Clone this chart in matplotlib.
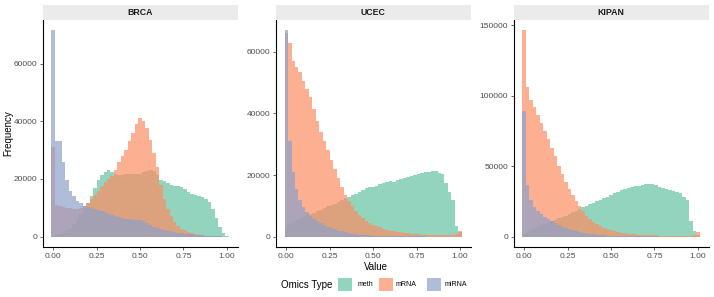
import numpy as np
import matplotlib.pyplot as plt
from matplotlib.patches import Rectangle

plt.rcParams['font.family'] = ['Liberation Sans', 'DejaVu Sans']

# --------------------------------------------------
# Histogram counts (thousands), bins of width 0.02 centred on 0.00 ... 1.00
# --------------------------------------------------
bin_centers = np.round(np.linspace(0, 1, 51), 2)
bin_width = 0.02

cancers = ['BRCA', 'UCEC', 'KIPAN']
omics = ['meth', 'mRNA', 'miRNA']

brca_meth = [0.3, 0.5, 0.8, 1.2, 2.0, 3.0, 4.5, 6.0, 8.0, 10.0,
             11.5, 14.0, 17.0, 19.5, 21.5, 22.5, 23.0, 22.3, 21.8, 21.5,
             21.5, 21.7, 21.8, 21.8, 21.6, 21.8, 22.3, 22.8, 23.2, 22.8,
             21.5, 19.8, 19.2, 18.6, 18.0, 17.6, 17.5, 17.2, 16.5, 15.5,
             14.8, 14.3, 14.0, 13.8, 13.0, 12.0, 9.5, 6.5, 3.5, 1.2,
             0.3]
brca_mrna = [31.0, 11.0, 10.5, 10.3, 10.0, 9.8, 9.6, 9.5, 9.8, 10.5,
             11.5, 13.0, 14.5, 16.0, 17.5, 19.0, 20.0, 21.0, 23.0, 26.0,
             28.0, 30.0, 33.0, 36.0, 39.0, 41.0, 40.0, 37.5, 33.5, 29.0,
             24.0, 18.0, 13.0, 9.5, 7.0, 5.0, 3.8, 2.8, 2.2, 1.6,
             1.2, 0.9, 0.7, 0.5, 0.4, 0.3, 0.2, 0.15, 0.1, 0.05,
             0.02]
brca_mirna = [71.5, 33.0, 33.0, 26.0, 19.5, 16.0, 14.0, 12.5, 11.5, 10.8,
              10.3, 10.0, 9.6, 9.2, 8.8, 8.4, 8.0, 7.6, 7.2, 6.8,
              6.5, 6.2, 6.0, 5.9, 5.9, 5.8, 5.3, 4.6, 3.9, 3.3,
              2.9, 2.6, 2.3, 2.0, 1.8, 1.6, 1.4, 1.2, 1.0, 0.9,
              0.8, 0.7, 0.6, 0.5, 0.4, 0.3, 0.2, 0.15, 0.1, 0.05,
              0.02]

ucec_meth = [3.0, 4.0, 4.8, 5.5, 6.0, 6.5, 7.0, 7.4, 7.8, 8.3,
             8.8, 9.3, 9.8, 10.2, 10.6, 11.2, 11.8, 12.5, 13.0, 13.5,
             14.0, 14.6, 15.2, 15.7, 16.0, 16.2, 16.5, 17.0, 17.4, 17.8,
             18.2, 17.8, 18.4, 18.8, 19.2, 19.5, 19.8, 20.1, 20.4, 20.7,
             20.9, 21.0, 21.3, 21.2, 20.8, 20.4, 17.5, 14.5, 12.0, 3.5,
             1.5]
ucec_mrna = [66.0, 63.0, 57.0, 55.0, 53.5, 50.5, 48.0, 45.5, 41.5, 37.5,
             34.0, 31.0, 28.0, 25.0, 22.0, 19.0, 16.0, 13.5, 11.5, 9.8,
             8.3, 7.0, 6.0, 5.2, 4.5, 3.9, 3.4, 3.0, 2.6, 2.3,
             2.0, 1.8, 1.6, 1.4, 1.2, 1.1, 1.0, 0.9, 0.8, 0.7,
             0.65, 0.6, 0.55, 0.5, 0.5, 0.5, 0.5, 0.5, 0.6, 0.8,
             2.0]
ucec_mirna = [67.0, 31.0, 21.0, 15.5, 12.0, 9.5, 8.0, 6.8, 5.8, 5.0,
              4.3, 3.7, 3.2, 2.8, 2.4, 2.0, 1.7, 1.4, 1.2, 1.0,
              0.8, 0.7, 0.6, 0.5, 0.4, 0.35, 0.3, 0.27, 0.24, 0.21,
              0.19, 0.17, 0.15, 0.13, 0.12, 0.11, 0.1, 0.09, 0.08, 0.07,
              0.06, 0.05, 0.05, 0.04, 0.04, 0.03, 0.03, 0.03, 0.02, 0.02,
              0.02]

kipan_meth = [2.0, 3.5, 4.5, 5.5, 7.0, 8.0, 9.0, 10.0, 11.0, 12.0,
              13.0, 14.0, 15.0, 16.0, 17.3, 18.5, 19.7, 21.0, 22.0, 23.0,
              24.0, 25.0, 26.0, 27.2, 28.4, 29.5, 30.7, 31.8, 32.8, 33.7,
              34.6, 35.2, 35.8, 36.3, 36.8, 37.2, 37.4, 37.2, 36.6, 35.6,
              34.6, 33.8, 33.2, 32.6, 32.0, 31.0, 28.5, 26.0, 11.0, 4.0,
              1.0]
kipan_mrna = [146.5, 106.5, 97.0, 92.0, 86.5, 81.0, 75.0, 69.0, 63.0, 57.0,
              50.5, 44.5, 39.0, 34.0, 29.5, 25.5, 21.5, 18.0, 15.0, 12.5,
              10.5, 8.8, 7.4, 6.2, 5.2, 4.4, 3.8, 3.3, 2.9, 2.5,
              2.2, 1.9, 1.7, 1.5, 1.3, 1.2, 1.1, 1.0, 0.9, 0.8,
              0.75, 0.7, 0.65, 0.6, 0.6, 0.6, 0.6, 0.6, 0.7, 1.0,
              3.0]
kipan_mirna = [89.0, 37.0, 26.0, 21.0, 18.0, 16.0, 14.0, 12.3, 10.8, 9.5,
               8.3, 7.2, 6.2, 5.3, 4.5, 3.8, 3.2, 2.7, 2.3, 1.9,
               1.6, 1.3, 1.1, 0.9, 0.8, 0.7, 0.6, 0.5, 0.45, 0.4,
               0.35, 0.3, 0.27, 0.24, 0.21, 0.19, 0.17, 0.15, 0.13, 0.12,
               0.1, 0.09, 0.08, 0.07, 0.06, 0.05, 0.05, 0.04, 0.04, 0.03,
               0.03]

counts = {
    'BRCA': [brca_meth, brca_mrna, brca_mirna],
    'UCEC': [ucec_meth, ucec_mrna, ucec_mirna],
    'KIPAN': [kipan_meth, kipan_mrna, kipan_mirna],
}
yticks = {
    'BRCA': [0, 20000, 40000, 60000],
    'UCEC': [0, 20000, 40000, 60000],
    'KIPAN': [0, 50000, 100000, 150000],
}
xticks = [0.0, 0.25, 0.5, 0.75, 1.0]
xtick_labels = ['0.00', '0.25', '0.50', '0.75', '1.00']

colors = ['#66C2A5', '#FC8D62', '#8DA0CB']
alpha = 0.7

# --------------------------------------------------
# Figure layout (pixels -> figure fractions)
# --------------------------------------------------
W, H = 714, 297
fig = plt.figure(figsize=(W / 100, H / 100), dpi=100)

panel_left = [42.5, 275.7, 513.5]
panel_w = 195.0
panel_top, panel_bottom = 20.0, 247.0
strip_top = 4.7

tick_col = '#4D4D4D'

for i, name in enumerate(cancers):
    ax = fig.add_axes([panel_left[i] / W, 1 - panel_bottom / H,
                       panel_w / W, (panel_bottom - panel_top) / H])
    for series, col in zip(counts[name], colors):
        ax.bar(bin_centers, np.array(series) * 1000, width=bin_width,
               color=col, alpha=alpha, linewidth=0)

    ymax = max(max(s) for s in counts[name]) * 1000
    ax.set_xlim(-0.01 - 0.051, 1.01 + 0.051)
    ax.set_ylim(-0.05 * ymax, 1.05 * ymax)

    ax.set_xticks(xticks)
    ax.set_xticklabels(xtick_labels)
    ax.set_yticks(yticks[name])
    ax.set_yticklabels([str(v) for v in yticks[name]])
    ax.tick_params(labelsize=6, colors=tick_col, labelcolor=tick_col,
                   length=2.5, width=0.6, pad=1.5)

    for side in ['top', 'right']:
        ax.spines[side].set_visible(False)
    for side in ['left', 'bottom']:
        ax.spines[side].set_linewidth(0.8)
        ax.spines[side].set_color('black')

    # facet strip
    sax = fig.add_axes([panel_left[i] / W, 1 - panel_top / H,
                        panel_w / W, (panel_top - strip_top) / H])
    sax.set_facecolor('#EBEBEB')
    sax.set_xticks([])
    sax.set_yticks([])
    for sp in sax.spines.values():
        sp.set_visible(False)
    sax.text(0.5, 0.5, name, ha='center', va='center',
             fontsize=6.3, fontweight='bold', color='#1A1A1A',
             transform=sax.transAxes)

# axis titles
fig.text(375.5 / W, 1 - 267 / H, 'Value', ha='center', va='center', fontsize=7)
fig.text(8 / W, 1 - 133 / H, 'Frequency', ha='center', va='center',
         fontsize=7, rotation=90)

# legend at bottom
fig.text(281 / W, 1 - 285 / H, 'Omics Type', ha='left', va='center', fontsize=7)
key_x = [338, 379, 427]
label_x = [357.5, 396, 445]
for kx, lx, col, lab in zip(key_x, label_x, colors, omics):
    fig.patches.append(Rectangle((kx / W, 1 - 291 / H), 13.5 / W, 13.5 / H,
                                 transform=fig.transFigure, facecolor=col,
                                 alpha=alpha, linewidth=0))
    fig.text(lx / W, 1 - 285 / H, lab, ha='left', va='center', fontsize=5)

fig.savefig('out.png', dpi=100)
